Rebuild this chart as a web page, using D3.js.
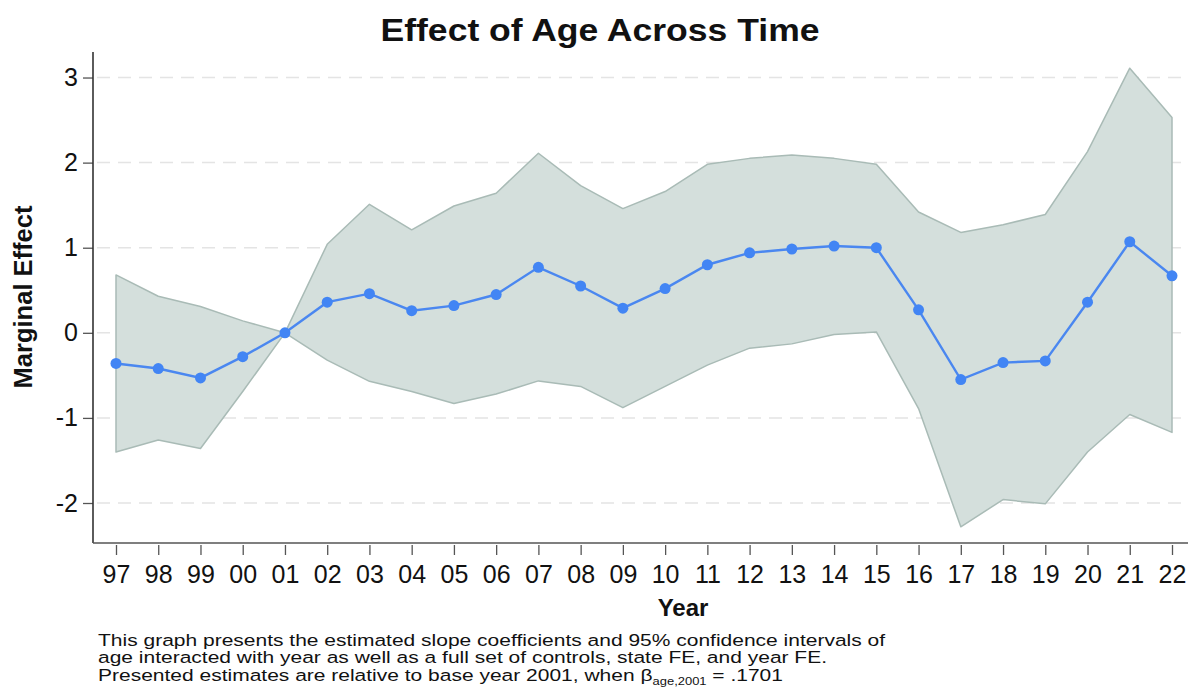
<!DOCTYPE html>
<html>
<head>
<meta charset="utf-8">
<script src="https://cdn.jsdelivr.net/npm/d3@7"></script>
<style>
  html, body { margin: 0; padding: 0; background: #fff; }
  svg { display: block; }
  text { font-family: "Liberation Sans", Arial, sans-serif; fill: #111; }
</style>
</head>
<body>
<svg id="chart" width="1188" height="696"></svg>
<script>
// Year labels (two-digit) and the estimated marginal effects with 95% CI
const years = ["97","98","99","00","01","02","03","04","05","06","07","08","09",
               "10","11","12","13","14","15","16","17","18","19","20","21","22"];
const estimate = [-0.36,-0.42,-0.53,-0.28,0.00,0.36,0.46,0.26,0.32,0.45,0.77,0.55,0.29,
                  0.52,0.80,0.94,0.985,1.02,1.00,0.27,-0.55,-0.35,-0.33,0.36,1.07,0.67];
const upperCI = [0.68,0.43,0.31,0.14,0.00,1.04,1.51,1.21,1.49,1.64,2.11,1.73,1.46,
                 1.66,1.98,2.05,2.09,2.05,1.98,1.42,1.18,1.27,1.39,2.13,3.11,2.53];
const lowerCI = [-1.40,-1.26,-1.36,-0.69,0.00,-0.32,-0.57,-0.69,-0.83,-0.72,-0.565,-0.63,-0.88,
                 -0.63,-0.38,-0.18,-0.13,-0.02,0.01,-0.89,-2.28,-1.96,-2.01,-1.40,-0.96,-1.17];
const yTicks = [-2,-1,0,1,2,3];
const noteLines = [
  "This graph presents the estimated slope coefficients and 95% confidence intervals of",
  "age interacted with year as well as a full set of controls, state FE, and year FE."
];

const rows = years.map((yr, i) => ({yr, est: estimate[i], lo: lowerCI[i], hi: upperCI[i]}));

const svg = d3.select("#chart");
const plot = {left: 93, right: 1188, top: 52, bottom: 543};

const x = d3.scalePoint().domain(years).range([116, 1172]);
const y = d3.scaleLinear().domain([-2.47, 3.3]).range([plot.bottom, plot.top]);

// dashed horizontal gridlines
svg.append("g").selectAll("line").data(yTicks).join("line")
  .attr("x1", plot.left + 4).attr("x2", plot.right)
  .attr("y1", d => y(d)).attr("y2", d => y(d))
  .attr("stroke", "#e4e4e4").attr("stroke-width", 1.5)
  .attr("stroke-dasharray", "13,8");

// confidence band
const band = d3.area()
  .x(d => x(d.yr)).y0(d => y(d.lo)).y1(d => y(d.hi));
svg.append("path").datum(rows)
  .attr("d", band)
  .attr("fill", "#d4dfdc")
  .attr("stroke", "#a9bbb6").attr("stroke-width", 1.5)
  .attr("stroke-linejoin", "round");

// point-estimate line and markers
const line = d3.line().x(d => x(d.yr)).y(d => y(d.est));
svg.append("path").datum(rows)
  .attr("d", line)
  .attr("fill", "none").attr("stroke", "#4a87f0").attr("stroke-width", 2.4);
svg.append("g").selectAll("circle").data(rows).join("circle")
  .attr("cx", d => x(d.yr)).attr("cy", d => y(d.est)).attr("r", 5.5)
  .attr("fill", "#4285f4");

// axes
const xAxis = d3.axisBottom(x).tickSize(10).tickPadding(10);
const gx = svg.append("g").attr("transform", `translate(0,${plot.bottom + 2})`).call(xAxis);
gx.select(".domain").remove();
gx.selectAll(".tick line").attr("stroke", "#555").attr("stroke-width", 1.3);
gx.selectAll(".tick text").attr("font-size", 25).attr("fill", "#111")
  .attr("font-family", "Liberation Sans, Arial, sans-serif");

const yAxis = d3.axisLeft(y).tickValues(yTicks).tickSize(10).tickPadding(5)
  .tickFormat(d => String(d));
const gy = svg.append("g").attr("transform", `translate(${plot.left},0)`).call(yAxis);
gy.select(".domain").remove();
gy.selectAll(".tick line").attr("stroke", "#555").attr("stroke-width", 1.3);
gy.selectAll(".tick text").attr("font-size", 25).attr("fill", "#111")
  .attr("font-family", "Liberation Sans, Arial, sans-serif");

// axis frame lines
svg.append("line").attr("x1", plot.left).attr("x2", plot.left)
  .attr("y1", plot.top).attr("y2", plot.bottom)
  .attr("stroke", "#333").attr("stroke-width", 1.6);
svg.append("line").attr("x1", plot.left).attr("x2", plot.right)
  .attr("y1", plot.bottom).attr("y2", plot.bottom)
  .attr("stroke", "#555").attr("stroke-width", 1.6);

// title and axis titles
svg.append("text").attr("x", 600).attr("y", 41).attr("text-anchor", "middle")
  .attr("font-size", 32).attr("font-weight", "bold")
  .attr("textLength", 439).attr("lengthAdjust", "spacingAndGlyphs")
  .text("Effect of Age Across Time");
svg.append("text").attr("x", 683).attr("y", 616).attr("text-anchor", "middle")
  .attr("font-size", 24).attr("font-weight", "bold").text("Year");
svg.append("text").attr("transform", "translate(32,297) rotate(-90)")
  .attr("text-anchor", "middle")
  .attr("font-size", 25.5).attr("font-weight", "bold").text("Marginal Effect");

// note below the chart, set slightly wide
const note = svg.append("g").attr("font-size", 17)
  .attr("transform", "translate(98,0) scale(1.235,1)");
note.selectAll("text.l").data(noteLines).join("text").attr("class", "l")
  .attr("x", 0).attr("y", (d, i) => 646 + i * 17.5).text(d => d);
const last = note.append("text").attr("x", 0).attr("y", 681);
last.append("tspan").text("Presented estimates are relative to base year 2001, when β");
last.append("tspan").attr("font-size", 10.5).attr("dy", 4).text("age,2001");
last.append("tspan").attr("dy", -4).text(" = .1701");
</script>
</body>
</html>
